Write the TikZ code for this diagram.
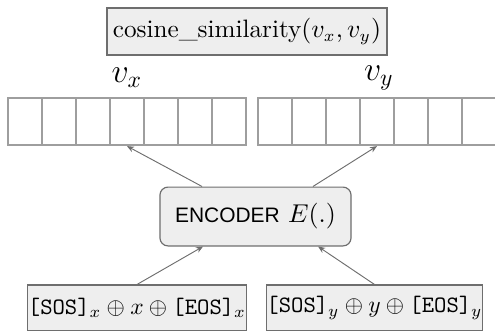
\documentclass[tikz,border=0pt]{standalone}
\usepackage{fontspec}
\setsansfont{Liberation Sans}
\usetikzlibrary{arrows.meta}
\definecolor{boxfill}{HTML}{EEEEEE}
\definecolor{boxline}{HTML}{6E6E6E}
\definecolor{cellline}{HTML}{9E9E9E}
\tikzset{
  textbox/.style={draw=boxline, fill=boxfill, line width=0.5pt, inner sep=0pt},
  cell/.style={draw=cellline, fill=white, line width=0.9pt,
    minimum width=14.45pt, minimum height=20pt, inner sep=0pt},
  feed/.style={draw=boxline, line width=0.4pt, -{Stealth[length=3pt,width=2.5pt]}},
}

\begin{document}
\begin{tikzpicture}[x=0.425pt, y=-0.425pt] % one unit = one pixel of the sketch
    \useasboundingbox (0,0) rectangle (495,330);

    % score on top
    \node[textbox, minimum width=119pt, minimum height=20pt,
        font=\fontsize{10.7}{13}\selectfont] (cos) at (247,31.5)
        {cosine\_similarity$(v_x,v_y)$};

    % the two vectors (seven cells each)
    \foreach \i in {1,...,7}{
        \node[cell] (vx\i) at ({34*\i-9},121.5) {};
        \node[cell] (vy\i) at ({34*\i+241},121.5) {};
    }
    \node[font=\Large] (lx) at (127,78) {$v_x$};
    \node[font=\Large] (ly) at (379,78) {$v_y$};

    % encoder
    \node[textbox, rounded corners=3.4pt, minimum width=81.2pt, minimum height=25pt,
        font=\fontsize{10.7}{13}\selectfont] (enc) at (255.5,216.5)
        {{\fontsize{8.9}{11}\selectfont\sffamily ENCODER} $E(.)$};

    % inputs
    \node[textbox, minimum width=91pt, minimum height=19.5pt] (inx) at (137,308)
        {$\texttt{[SOS]}_x \oplus x \oplus \texttt{[EOS]}_x$};
    \node[textbox, minimum width=90.5pt, minimum height=19.5pt] (iny) at (374.5,308)
        {$\texttt{[SOS]}_y \oplus y \oplus \texttt{[EOS]}_y$};

    % arrows
    \draw[feed] ([xshift=-22.7pt]enc.north) -- (vx4.south);
    \draw[feed] ([xshift=24.4pt]enc.north) -- (vy4.south);
    \draw[feed] (inx.north) -- ([xshift=-22.3pt]enc.south);
    \draw[feed] (iny.north) -- ([xshift=26.6pt]enc.south);
\end{tikzpicture}
\end{document}
